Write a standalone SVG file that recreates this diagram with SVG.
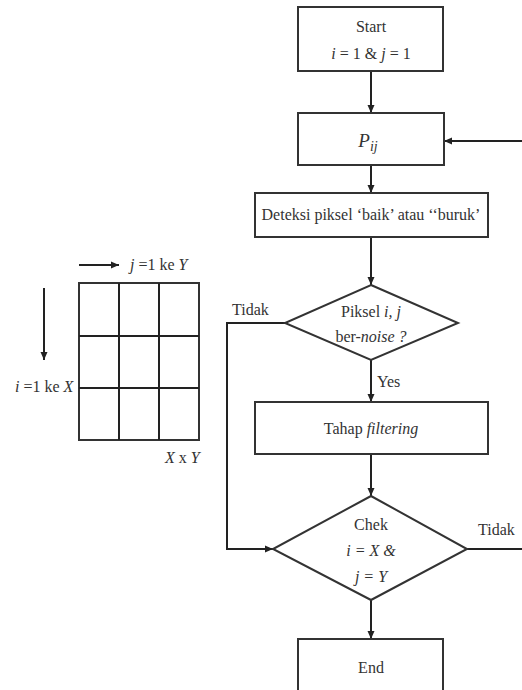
<svg xmlns="http://www.w3.org/2000/svg" width="522" height="690" viewBox="0 0 522 690">
<defs>
<style>
.box{fill:#fff;stroke:#333;stroke-width:2}
.ln{fill:none;stroke:#222;stroke-width:2}
text{font-family:"Liberation Serif",serif;font-size:16px;fill:#333;text-anchor:middle}
.s{text-anchor:start}
.i{font-style:italic}
</style>
<marker id="ah" markerWidth="8" markerHeight="8" refX="8" refY="4" orient="auto" markerUnits="userSpaceOnUse">
<path d="M0,0.5 L8,4 L0,7.5 Z" fill="#222"/>
</marker>
</defs>
<rect width="522" height="690" fill="#fff"/>

<g id="grid">
<rect x="79" y="283" width="120" height="157" class="box" fill="none"/>
<path d="M119,283 V440 M159,283 V440 M79,336 H199 M79,388 H199" class="ln"/>
<path d="M79,265 H119" class="ln" marker-end="url(#ah)"/>
<path d="M44,288 V360" class="ln" marker-end="url(#ah)"/>
<text x="130" y="270" class="s"><tspan class="i">j</tspan> =1 ke <tspan class="i">Y</tspan></text>
<text x="15" y="392" class="s"><tspan class="i">i</tspan> =1 ke <tspan class="i">X</tspan></text>
<text x="165" y="463" class="s"><tspan class="i">X</tspan> x <tspan class="i">Y</tspan></text>
</g>

<g id="connectors">
<path d="M371,71 V113" class="ln" marker-end="url(#ah)"/>
<path d="M522,141 H444" class="ln" marker-end="url(#ah)"/>
<path d="M371,165 V193" class="ln" marker-end="url(#ah)"/>
<path d="M371,237 V285" class="ln" marker-end="url(#ah)"/>
<path d="M371,360 V402" class="ln" marker-end="url(#ah)"/>
<path d="M285,323 H227 V549 H273" class="ln" marker-end="url(#ah)"/>
<path d="M371,454 V496" class="ln" marker-end="url(#ah)"/>
<path d="M467,549 H522" class="ln"/>
<path d="M371,600 V639" class="ln" marker-end="url(#ah)"/>
<text x="232" y="315" class="s">Tidak</text>
<text x="377" y="387" class="s">Yes</text>
<text x="478" y="535" class="s">Tidak</text>
</g>

<g id="start">
<rect x="298" y="7" width="145" height="64" class="box"/>
<text x="371" y="32">Start</text>
<text x="371" y="59"><tspan class="i">i</tspan> = 1 &amp; <tspan class="i">j</tspan> = 1</text>
</g>

<g id="pij">
<rect x="298" y="113" width="146" height="52" class="box"/>
<text x="368" y="147" class="i" style="font-size:19px">P<tspan style="font-size:14px" dy="4">ij</tspan></text>
</g>

<g id="deteksi">
<rect x="255" y="193" width="233" height="44" class="box"/>
<text x="371" y="220">Deteksi piksel ‘baik’ atau ‘‘buruk’</text>
</g>

<g id="noise">
<polygon points="371,285 458,323 371,360 285,323" class="box"/>
<text x="371" y="317">Piksel <tspan class="i">i, j</tspan></text>
<text x="371" y="342">ber-<tspan class="i">noise ?</tspan></text>
</g>

<g id="filtering">
<rect x="255" y="402" width="233" height="52" class="box"/>
<text x="371" y="434">Tahap <tspan class="i">filtering</tspan></text>
</g>

<g id="chek">
<polygon points="371,496 467,549 371,600 273,549" class="box"/>
<text x="371" y="530">Chek</text>
<text x="371" y="556" class="i">i = X &amp;</text>
<text x="371" y="582" class="i">j = Y</text>
</g>

<g id="end">
<rect x="298" y="639" width="145" height="60" class="box"/>
<text x="371" y="673">End</text>
</g>
</svg>
